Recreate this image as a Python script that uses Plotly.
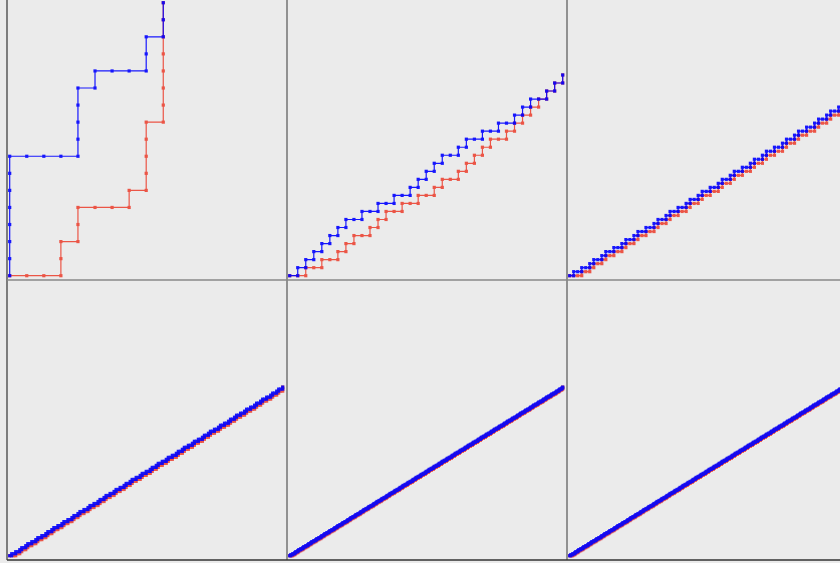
import plotly.graph_objects as go

# Each digit = number of unit steps to the right taken before one unit step up.
P1_BLUE = "0000000400013010"
P1_RED = "3010310001000000"
P2_BLUE = "1111111222211112122211211"
P2_RED = "2221121122212111121111111"
P3_BLUE = "1221212212122121221212212122121221212212121"
P3_RED = "3212" + "12212122121221212212122121221212212" + "1210"
P4_BLUE = ("12212122" "12212122" "12212122" "12212122" "12212122"
           "12212122" "12212122" "12212122" "12212122" "12212122" "1212")
P4_RED = ("3212122" "12212122" "12212122" "12212122" "12212122" "12212122"
          "12212122" "12212122" "12212122" "12212122" "1212" "0")
P5_BLUE = ("12212122" "12212122" "12212122" "12212122" "12212122"
           "12212122" "12212122" "12212122" "12212122" "12212122"
           "12212122" "12212122" "12212122" "12212122" "12212122"
           "12212122" "12212122" "12212122" "12212122" "12212122" "12212121")
P5_RED = ("3212122" "12212122" "12212122" "12212122" "12212122" "12212122"
          "12212122" "12212122" "12212122" "12212122" "12212122"
          "12212122" "12212122" "12212122" "12212122" "12212122"
          "12212122" "12212122" "12212122" "12212122" "12212121" "0")
P6_BLUE = P5_BLUE
P6_RED = P5_RED

PANELS = [(P1_BLUE, P1_RED), (P2_BLUE, P2_RED), (P3_BLUE, P3_RED),
          (P4_BLUE, P4_RED), (P5_BLUE, P5_RED), (P6_BLUE, P6_RED)]

BLUE = "#0000ff"
RED = "#ec3b2a"
BG = "#ebebeb"
W, H = 840, 563


def lattice(digits):
    xs, ys = [0], [0]
    x = y = 0
    for d in digits:
        for _ in range(int(d)):
            x += 1
            xs.append(x)
            ys.append(y)
        y += 1
        xs.append(x)
        ys.append(y)
    return xs, ys


fig = go.Figure()
col_left = [7, 287, 567]
col_w = [280, 280, 273]
row_top = [0, 280]
PH = 280
PADL, PADB, EXT = 2.7, 4.3, 273.0

layout = {}
for i, (b, r) in enumerate(PANELS):
    row, col = divmod(i, 3)
    k = i + 1
    bx, by = lattice(b)
    rx, ry = lattice(r)
    n = max(max(bx), max(by), max(rx), max(ry))
    s = EXT / n
    xa = "x" if k == 1 else "x%d" % k
    ya = "y" if k == 1 else "y%d" % k
    for xs, ys, c in ((rx, ry, RED), (bx, by, BLUE)):
        fig.add_trace(go.Scatter(
            x=xs, y=ys, mode="lines+markers", xaxis=xa, yaxis=ya,
            line=dict(color=c, width=1.2), opacity=0.85 if c == RED else 0.9,
            marker=dict(size=3.2, color=c, symbol="square"),
            showlegend=False, hoverinfo="skip"))
    x0 = col_left[col]
    wpx = col_w[col]
    y0 = row_top[row]
    common = dict(showgrid=False, zeroline=False, showticklabels=False,
                  ticks="", showline=False, fixedrange=True)
    layout["xaxis" if k == 1 else "xaxis%d" % k] = dict(
        domain=[x0 / W, (x0 + wpx) / W],
        range=[-PADL / s, (wpx - PADL) / s], anchor=ya, **common)
    layout["yaxis" if k == 1 else "yaxis%d" % k] = dict(
        domain=[1 - (y0 + PH) / H, 1 - y0 / H],
        range=[-PADB / s, (PH - PADB) / s], anchor=xa, **common)


def hline(ypx, x0px, x1px, color, w):
    return dict(type="line", xref="paper", yref="paper",
                x0=x0px / W, x1=x1px / W, y0=1 - ypx / H, y1=1 - ypx / H,
                line=dict(color=color, width=w), layer="above")


def vline(xpx, y0px, y1px, color, w):
    return dict(type="line", xref="paper", yref="paper",
                x0=xpx / W, x1=xpx / W, y0=1 - y0px / H, y1=1 - y1px / H,
                line=dict(color=color, width=w), layer="above")


shapes = [
    vline(7, 0, 560, "#333333", 1.2),
    vline(287, 0, 560, "#555555", 1.2),
    vline(567, 0, 560, "#555555", 1.2),
    hline(280, 7, 840, "#888888", 1.5),
    hline(560, 7, 840, "#333333", 1.5),
]

fig.update_layout(
    width=W, height=H, margin=dict(l=0, r=0, t=0, b=0),
    paper_bgcolor=BG, plot_bgcolor=BG, shapes=shapes, **layout)

fig.write_html(
    "out.html",
    config={"displayModeBar": False, "staticPlot": True},
    post_script="document.body.style.margin='0px';"
                "document.body.style.background='%s';" % BG)
